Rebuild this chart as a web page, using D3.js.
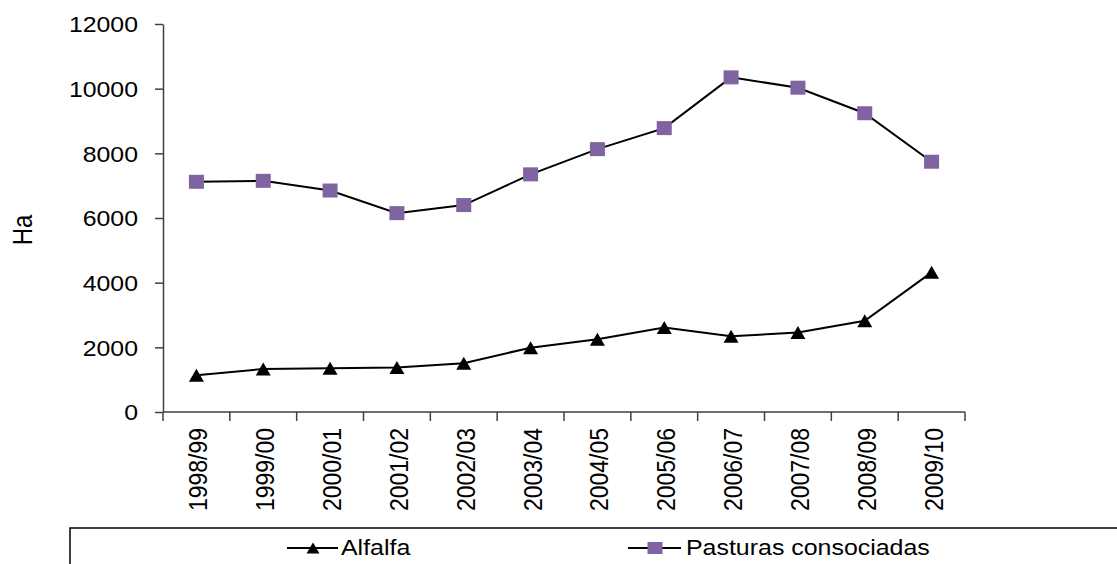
<!DOCTYPE html>
<html>
<head>
<meta charset="utf-8">
<script src="https://cdn.jsdelivr.net/npm/d3@7/dist/d3.min.js"></script>
<style>
  html, body { margin: 0; padding: 0; background: #fff; }
  svg { display: block; font-family: "Liberation Sans", Arial, sans-serif; }
</style>
</head>
<body>
<svg id="chart" width="1117" height="564"></svg>
<script>
// Campaign years
const campaigns = ["1998/99", "1999/00", "2000/01", "2001/02", "2002/03", "2003/04",
                   "2004/05", "2005/06", "2006/07", "2007/08", "2008/09", "2009/10"];
// Surface (ha) per campaign
const alfalfa = [1140, 1330, 1350, 1380, 1510, 1990, 2250, 2610, 2340, 2460, 2820, 4320];
const pasturas = [7120, 7150, 6850, 6150, 6400, 7350, 8130, 8780, 10350, 10030, 9240, 7740];
const yTicks = [0, 2000, 4000, 6000, 8000, 10000, 12000];
const seriesNames = ["Alfalfa", "Pasturas consociadas"];

const purple = "#8064A2";
const axisColor = "#404040";
const stretch = 1.13;   // horizontal glyph stretch used for all labels

const svg = d3.select("#chart");

const x = d3.scaleBand().domain(campaigns).range([163, 965]).paddingInner(0).paddingOuter(0);
const y = d3.scaleLinear().domain([0, 12000]).range([412, 24]);
const cx = d => x(d) + x.bandwidth() / 2;

// Y axis
const yAxis = svg.append("g")
  .attr("transform", "translate(163,0)")
  .call(d3.axisLeft(y).tickValues(yTicks).tickSize(8).tickSizeOuter(0).tickPadding(17).tickFormat(d3.format("d")));
yAxis.select(".domain").attr("stroke", axisColor).attr("stroke-width", 1.5);
yAxis.selectAll(".tick line").attr("stroke", axisColor).attr("stroke-width", 1.5);
yAxis.selectAll(".tick text")
  .attr("fill", "#000")
  .style("font-size", "22px")
  .style("font-family", "'Liberation Sans', Arial, sans-serif")
  .attr("x", -25 / stretch)
  .attr("dy", "0.36em")
  .attr("transform", `scale(${stretch},1)`);

// X axis: line, ticks at category boundaries, rotated labels at band centres
const xAxis = svg.append("g");
xAxis.append("line")
  .attr("x1", x.range()[0]).attr("x2", x.range()[1])
  .attr("y1", y(0)).attr("y2", y(0))
  .attr("stroke", axisColor).attr("stroke-width", 1.5);
const bounds = campaigns.map(c => x(c)).concat([x.range()[1]]);
xAxis.selectAll("line.tick").data(bounds).join("line")
  .attr("class", "tick")
  .attr("x1", d => d).attr("x2", d => d)
  .attr("y1", y(0)).attr("y2", y(0) + 9)
  .attr("stroke", axisColor).attr("stroke-width", 1.5);
xAxis.selectAll("text").data(campaigns).join("text")
  .attr("transform", d => `translate(${cx(d)},428) scale(${stretch},1) rotate(-90)`)
  .attr("text-anchor", "end")
  .attr("dy", "0.42em")
  .style("font-size", "23px")
  .attr("fill", "#000")
  .text(d => d);

// Y axis title
svg.append("text")
  .attr("transform", `translate(22,230) scale(${stretch},1) rotate(-90)`)
  .attr("text-anchor", "middle")
  .attr("dy", "0.36em")
  .style("font-size", "24px")
  .attr("fill", "#000")
  .text("Ha");

// Lines
const line = d3.line().x((d, i) => cx(campaigns[i])).y(d => y(d));
svg.append("path").datum(pasturas).attr("d", line)
  .attr("fill", "none").attr("stroke", "#000").attr("stroke-width", 2);
svg.append("path").datum(alfalfa).attr("d", line)
  .attr("fill", "none").attr("stroke", "#000").attr("stroke-width", 2);

// Markers
const tri = (w, h) => `M0,${-h / 2}L${w / 2},${h / 2}L${-w / 2},${h / 2}Z`;
svg.selectAll("path.tri").data(alfalfa).join("path")
  .attr("class", "tri")
  .attr("transform", (d, i) => `translate(${cx(campaigns[i])},${y(d)})`)
  .attr("d", tri(15, 13))
  .attr("fill", "#000");
svg.selectAll("rect.sq").data(pasturas).join("rect")
  .attr("class", "sq")
  .attr("x", (d, i) => cx(campaigns[i]) - 7.5)
  .attr("y", d => y(d) - 7)
  .attr("width", 15).attr("height", 14)
  .attr("fill", purple);

// Legend box (open to the right and bottom)
const legend = svg.append("g");
legend.append("path")
  .attr("d", "M70,564V528H1117")
  .attr("fill", "none").attr("stroke", "#000").attr("stroke-width", 1.5);

const ly = 548;
// Alfalfa entry
legend.append("line").attr("x1", 287).attr("x2", 338).attr("y1", ly).attr("y2", ly)
  .attr("stroke", "#000").attr("stroke-width", 2);
legend.append("path").attr("transform", `translate(313,${ly})`).attr("d", tri(13, 11)).attr("fill", "#000");
legend.append("text").attr("transform", `translate(341,555) scale(1.16,1)`)
  .style("font-size", "21.5px").attr("fill", "#000").text(seriesNames[0]);
// Pasturas entry
legend.append("line").attr("x1", 628).attr("x2", 681).attr("y1", ly).attr("y2", ly)
  .attr("stroke", "#000").attr("stroke-width", 2);
legend.append("rect").attr("x", 655 - 7.5).attr("y", ly - 6).attr("width", 15).attr("height", 12).attr("fill", purple);
legend.append("text").attr("transform", `translate(686,555) scale(1.16,1)`)
  .style("font-size", "21.5px").attr("fill", "#000").text(seriesNames[1]);
</script>
</body>
</html>
